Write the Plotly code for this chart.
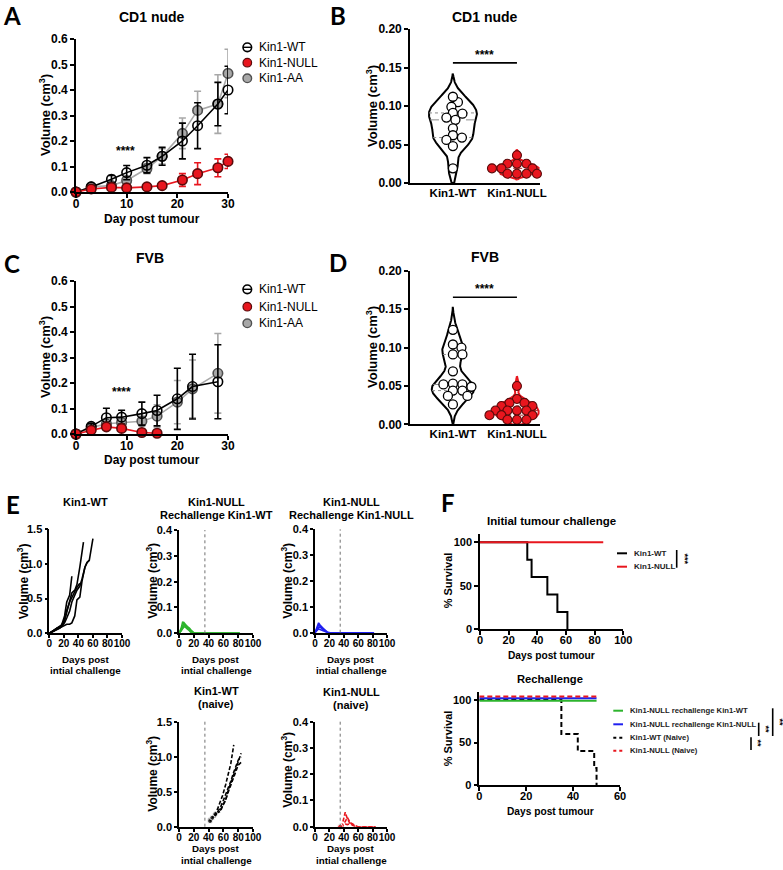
import numpy as np
import plotly.graph_objects as go

W, H = 783, 870
FONT = "Liberation Sans"
RED = "#e8161e"
RED_EDGE = "#5a0a0a"
GREY = "#a8a8a8"
GREY_EDGE = "#505050"
GREEN = "#2db42d"
BLUE = "#2020f0"

# ---------------- DATA ----------------
# A: CD1 nude, tumour volume (cm3), mean +/- SEM
days_A = [0, 3, 7, 10, 14, 17, 21, 24, 28, 30]
wt_A = [0.0, 0.02, 0.05, 0.076, 0.105, 0.14, 0.20, 0.26, 0.345, 0.40]
wt_A_err = [0.0, 0.005, 0.015, 0.028, 0.03, 0.035, 0.07, 0.09, 0.085, 0.093]
null_A = [0.0, 0.012, 0.018, 0.016, 0.02, 0.025, 0.047, 0.072, 0.095, 0.12]
null_A_err = [0.0, 0.003, 0.004, 0.004, 0.004, 0.005, 0.025, 0.043, 0.035, 0.028]
aa_A = [0.0, 0.02, 0.025, 0.045, 0.092, 0.14, 0.23, 0.32, 0.345, 0.465]
aa_A_err = [0.0, 0.004, 0.006, 0.01, 0.02, 0.03, 0.06, 0.075, 0.115, 0.095]

# C: FVB, tumour volume (cm3), mean +/- SEM
days_C = [0, 3, 6, 9, 13, 16, 20, 23, 28]
wt_C = [0.0, 0.03, 0.064, 0.066, 0.08, 0.092, 0.138, 0.186, 0.205]
wt_C_err = [0.0, 0.01, 0.037, 0.027, 0.045, 0.06, 0.12, 0.127, 0.145]
aa_C = [0.0, 0.025, 0.04, 0.045, 0.05, 0.07, 0.125, 0.177, 0.238]
aa_C_err = [0.0, 0.008, 0.01, 0.012, 0.02, 0.045, 0.085, 0.113, 0.156]
days_C_null = [0, 3, 6, 9, 13, 16]
null_C = [0.0, 0.015, 0.028, 0.022, 0.006, 0.003]
null_C_err = [0.0, 0.004, 0.01, 0.009, 0.003, 0.002]

# B / D: individual tumour volumes (cm3)
groups = ["Kin1-WT", "Kin1-NULL"]
b_wt = [0.105, 0.112, 0.099, 0.091, 0.090, 0.082, 0.085, 0.071, 0.062, 0.056, 0.059, 0.048, 0.019]
b_null = [0.036, 0.025, 0.025, 0.025, 0.019, 0.019, 0.019, 0.019, 0.019,
          0.012, 0.012, 0.012, 0.012]
d_wt = [0.123, 0.100, 0.104, 0.091, 0.091, 0.069, 0.053, 0.052, 0.052, 0.049, 0.044,
        0.044, 0.037, 0.037, 0.026]
d_null = [0.050, 0.033, 0.028, 0.028, 0.024, 0.024, 0.024, 0.018, 0.018, 0.018, 0.018,
          0.012, 0.012, 0.012, 0.012, 0.006, 0.006, 0.006]

# E: individual tumour volume (cm3) vs days post initial challenge
e_wt_days = [
    [0, 7, 10, 14, 17, 21, 24, 28, 31],
    [0, 7, 10, 14, 17, 21, 24, 28, 31, 35, 38, 42, 45, 47],
    [0, 7, 10, 14, 17, 21, 24, 28, 31, 35, 38, 42, 45, 49, 52, 55, 60],
    [0, 7, 10, 14, 17, 21, 24, 28, 31, 35, 38, 42],
    [0, 7, 10, 14, 17, 21, 24, 28, 31, 35, 38, 42, 45, 49, 52, 55],
]
e_wt_vol = [
    [0, 0.05, 0.07, 0.08, 0.12, 0.25, 0.45, 0.55, 0.82],
    [0, 0.04, 0.07, 0.09, 0.11, 0.18, 0.30, 0.45, 0.58, 0.62, 0.70, 0.95, 1.15, 1.31],
    [0, 0.03, 0.05, 0.07, 0.10, 0.15, 0.22, 0.32, 0.45, 0.55, 0.62, 0.68, 0.78, 0.95, 1.02, 1.05, 1.36],
    [0, 0.05, 0.06, 0.09, 0.12, 0.20, 0.33, 0.45, 0.52, 0.60, 0.66, 0.72],
    [0, 0.04, 0.06, 0.08, 0.10, 0.12, 0.13, 0.13, 0.15, 0.25, 0.48, 0.52, 0.75, 0.95, 1.02, 1.05],
]
e_re_days = [0, 3, 5, 7, 10, 14, 17, 21, 28, 35, 42, 49, 56, 63, 70, 77, 82]
e_re_wt_vol = [
    [0, 0.02, 0.045, 0.035, 0.02, 0.01, 0, 0, 0, 0, 0, 0, 0, 0, 0, 0, 0],
    [0, 0.015, 0.03, 0.04, 0.03, 0.015, 0.005, 0, 0, 0, 0, 0, 0, 0, 0, 0, 0],
    [0, 0.01, 0.025, 0.03, 0.028, 0.02, 0.01, 0, 0, 0, 0, 0, 0, 0, 0, 0, 0],
    [0, 0.01, 0.02, 0.025, 0.022, 0.018, 0.005, 0, 0, 0, 0, 0, 0, 0, 0, 0, 0],
]
e_re_null_vol = [
    [0, 0.02, 0.038, 0.03, 0.02, 0.008, 0, 0, 0, 0, 0, 0, 0, 0, 0, 0, 0],
    [0, 0.015, 0.03, 0.025, 0.018, 0.01, 0.003, 0, 0, 0, 0, 0, 0, 0, 0, 0, 0],
    [0, 0.01, 0.02, 0.022, 0.015, 0.008, 0, 0, 0, 0, 0, 0, 0, 0, 0, 0, 0],
    [0, 0.008, 0.015, 0.012, 0.01, 0.005, 0, 0, 0, 0, 0, 0, 0, 0, 0, 0, 0],
]
e_naive_wt_days = [
    [42, 45, 49, 52, 56, 59, 63, 66, 70, 74],
    [42, 45, 49, 52, 56, 59, 63, 66, 70, 74, 77, 80, 84],
    [45, 49, 52, 56, 59, 63, 66, 70, 74, 77, 80, 84],
    [49, 52, 56, 59, 63, 66, 70, 74, 77, 80, 84],
]
e_naive_wt_vol = [
    [0.10, 0.13, 0.18, 0.25, 0.35, 0.45, 0.60, 0.75, 0.90, 1.17],
    [0.08, 0.10, 0.15, 0.20, 0.28, 0.35, 0.45, 0.55, 0.65, 0.78, 0.88, 0.95, 1.00],
    [0.13, 0.16, 0.20, 0.22, 0.30, 0.38, 0.48, 0.60, 0.70, 0.80, 0.88, 0.92],
    [0.18, 0.20, 0.24, 0.30, 0.38, 0.50, 0.62, 0.75, 0.85, 0.95, 1.05],
]
e_naive_null_days = [35, 38, 42, 45, 49, 52, 56, 59, 63, 70, 77, 84]
e_naive_null_vol = [
    [0, 0.01, 0.055, 0.03, 0.01, 0.005, 0, 0, 0, 0, 0, 0],
    [0, 0.005, 0.02, 0.035, 0.015, 0.01, 0.005, 0, 0, 0, 0, 0],
    [0, 0, 0.01, 0.008, 0.012, 0.008, 0.003, 0, 0, 0, 0, 0],
]
rechallenge_day = 35

# F: survival (%)
f1_wt_t = [0, 33, 36, 47, 54, 61]
f1_wt_s = [100, 80, 60, 40, 20, 0]
f1_null_t = [0, 86]
f1_null_s = [100, 100]
f2_flat_t = [0, 50]
f2_flat_s = [100, 100]
f2_naive_wt_t = [0, 35, 42, 49, 50]
f2_naive_wt_s = [100, 60, 40, 20, 0]

# ---------------- FIGURE ----------------
fig = go.Figure()
axes = {}
shapes = []
annots = []
count = [0]


def axis_style(**kw):
    d = dict(showline=True, linecolor="black", linewidth=1.6, ticks="outside", ticklen=4,
             tickwidth=1.5, tickcolor="black", showgrid=False, zeroline=False,
             fixedrange=True, automargin=False, tickangle=0,
             tickfont=dict(family=FONT, size=12, color="black", weight="bold"))
    d.update(kw)
    return d


def new_axes(box, xr, yr, xkw=None, ykw=None):
    count[0] += 1
    n = count[0]
    sfx = "" if n == 1 else str(n)
    x0, x1, yt, yb = box
    xa = axis_style(domain=[x0 / W, x1 / W], range=xr, anchor="y" + sfx, ticklabelstandoff=-4)
    ya = axis_style(domain=[1 - yb / H, 1 - yt / H], range=yr, anchor="x" + sfx)
    xa.update(xkw or {})
    ya.update(ykw or {})
    axes["xaxis" + sfx] = xa
    axes["yaxis" + sfx] = ya
    return "x" + sfx, "y" + sfx


def text(x, y, s, size, bold=True, angle=0, xanchor="center", family=FONT, color="black"):
    annots.append(dict(x=x / W, y=1 - y / H, xref="paper", yref="paper", text=s,
                       showarrow=False, textangle=angle, xanchor=xanchor, yanchor="middle",
                       font=dict(family=family, size=size, color=color,
                                 weight="bold" if bold else "normal")))


def pline(x0, y0, x1, y1, color="black", width=1.5, dash="solid"):
    shapes.append(dict(type="line", xref="paper", yref="paper", x0=x0 / W, x1=x1 / W,
                       y0=1 - y0 / H, y1=1 - y1 / H, line=dict(color=color, width=width, dash=dash)))


def pcircle(x, y, r, fill, edge, lw):
    shapes.append(dict(type="circle", xref="paper", yref="paper", xsizemode="pixel",
                       ysizemode="pixel", xanchor=x / W, yanchor=1 - y / H,
                       x0=-r, x1=r, y0=-r, y1=r, fillcolor=fill,
                       line=dict(color=edge, width=lw)))


def growth(xa, ya, days, vals, err, line_color, mfill, medge, symbol="circle"):
    fig.add_trace(go.Scatter(
        x=days, y=vals, mode="lines+markers", xaxis=xa, yaxis=ya, cliponaxis=False,
        line=dict(color=line_color, width=1.6),
        marker=dict(size=9.5, symbol=symbol, color=mfill, line=dict(color=medge, width=1.6)),
        error_y=dict(type="data", array=err, color=line_color, thickness=1.6, width=3.5),
        hoverinfo="skip"))


def growth_panel(box, days_wt, wt, wt_err, days_aa, aa, aa_err, days_null, nul, nul_err,
                 star_x, star_y):
    xa, ya = new_axes(box, [0, 30], [0, 0.6],
                      xkw=dict(tickvals=[0, 10, 20, 30]),
                      ykw=dict(tickvals=[0, 0.1, 0.2, 0.3, 0.4, 0.5, 0.6], tickformat=".1f"))
    growth(xa, ya, days_aa, aa, aa_err, GREY, GREY, GREY_EDGE)
    growth(xa, ya, days_wt, wt, wt_err, "black", "black", "black", symbol="circle-open")
    growth(xa, ya, days_null, nul, nul_err, RED, RED, RED_EDGE)
    annots.append(dict(x=star_x, y=star_y, xref=xa, yref=ya, text="****", showarrow=False,
                       font=dict(family=FONT, size=12, color="black", weight="bold")))


def violin(xa, ya, vals, center, bw, halfw, color, qcolor):
    v = np.asarray(vals, float)
    lo = max(v.min() - 2.5 * bw, 0.0)
    hi = v.max() + 2.5 * bw
    ys = np.linspace(lo, hi, 300)
    dens = np.exp(-0.5 * ((ys[:, None] - v[None, :]) / bw) ** 2).sum(axis=1)
    hw = halfw * dens / dens.max()
    xs = np.concatenate([center + hw, (center - hw)[::-1]])
    yy = np.concatenate([ys, ys[::-1]])
    fig.add_trace(go.Scatter(x=np.append(xs, xs[0]), y=np.append(yy, yy[0]), mode="lines",
                             fill="toself", fillcolor="rgba(255,255,255,0)",
                             line=dict(color=color, width=2), xaxis=xa, yaxis=ya,
                             cliponaxis=False, hoverinfo="skip"))
    q = np.percentile(v, [25, 50, 75])
    for qi, dash in zip(q, ["dot", "dash", "dot"]):
        w = float(np.interp(qi, ys, hw))
        fig.add_trace(go.Scatter(x=[center - w, center + w], y=[qi, qi], mode="lines",
                                 line=dict(color=qcolor, width=1, dash=dash),
                                 xaxis=xa, yaxis=ya, hoverinfo="skip"))


def swarm(vals, center, ypx, xpx, diam, kv=1.55):
    v = np.asarray(vals, float)
    order = np.argsort(-v, kind="stable")
    placed = []
    off = np.zeros(len(v))
    cands = [0.0] + [s * k for k in np.arange(0.5, 80, 0.5) for s in (1, -1)]
    for i in order:
        y = v[i] * ypx
        for c in cands:
            if all((c - a) ** 2 + (kv * (y - b)) ** 2 >= diam ** 2 for a, b in placed):
                off[i] = c
                placed.append((c, y))
                break
    return center + off / xpx


def violin_panel(box, wt, nul, bws, halfws, sig_y):
    xa, ya = new_axes(box, [-0.67, 1.36], [0, 0.2],
                      xkw=dict(tickvals=[0, 1], ticktext=groups, ticks="",
                               ticklabelstandoff=-2,
                               tickfont=dict(family=FONT, size=11.5, color="black", weight="bold")),
                      ykw=dict(tickvals=[0, 0.05, 0.1, 0.15, 0.2], tickformat=".2f"))
    x0, x1, yt, yb = box
    ypx = (yb - yt) / 0.2
    xpx = (x1 - x0) / (1.36 + 0.67)
    violin(xa, ya, wt, 0, bws[0], halfws[0], "black", "#8a8a8a")
    violin(xa, ya, nul, 1, bws[1], halfws[1], RED, "#b03030")
    fig.add_trace(go.Scatter(x=swarm(wt, 0, ypx, xpx, 9.5), y=wt, mode="markers",
                             xaxis=xa, yaxis=ya, cliponaxis=False, hoverinfo="skip",
                             marker=dict(size=9, color="white", line=dict(color="black", width=1.3))))
    fig.add_trace(go.Scatter(x=swarm(nul, 1, ypx, xpx, 9.3), y=nul, mode="markers",
                             xaxis=xa, yaxis=ya, cliponaxis=False, hoverinfo="skip",
                             marker=dict(size=9, color=RED, line=dict(color=RED_EDGE, width=1.1))))
    shapes.append(dict(type="line", xref=xa, yref=ya, x0=0, x1=1, y0=sig_y, y1=sig_y,
                       line=dict(color="black", width=1.6)))
    annots.append(dict(x=0.5, y=sig_y, xref=xa, yref=ya, text="****", showarrow=False,
                       yanchor="bottom", yshift=-1,
                       font=dict(family=FONT, size=12, color="black", weight="bold")))


# ---- Panel A ----
growth_panel((76, 228, 39, 192), days_A, wt_A, wt_A_err, days_A, aa_A, aa_A_err,
             days_A, null_A, null_A_err, 9.8, 0.16)
# ---- Panel C ----
growth_panel((76, 228, 281, 434), days_C, wt_C, wt_C_err, days_C, aa_C, aa_C_err,
             days_C_null, null_C, null_C_err, 9.0, 0.163)
# ---- Panel B ----
violin_panel((410, 540, 29, 183), b_wt, b_null, (0.012, 0.003), (0.375, 0.34), 0.156)
# ---- Panel D ----
violin_panel((410, 540, 270.7, 424.4), d_wt, d_null, (0.012, 0.005), (0.33, 0.34), 0.1655)

# legends A and C
leg_names = ["Kin1-WT", "Kin1-NULL", "Kin1-AA"]
for rows in ([47.3, 62.7, 78.3], [289.3, 306.7, 323.3]):
    pcircle(247.3, rows[0], 4.3, "white", "black", 1.6)
    pline(243, rows[0], 251.6, rows[0], "black", 1.4)
    pcircle(247.3, rows[1], 4.3, RED, RED_EDGE, 1.2)
    pcircle(247.3, rows[2], 4.3, GREY, GREY_EDGE, 1.4)
    for r, nm in zip(rows, leg_names):
        text(256.5, r, nm, 12, bold=False, xanchor="left")

# ---- Panel E ----
e_xkw = dict(tickvals=[0, 20, 40, 60, 80, 100], ticklen=3, ticklabelstandoff=-3,
             tickfont=dict(family=FONT, size=10, color="black", weight="bold"))
e_yfont = dict(family=FONT, size=11, color="black", weight="bold")


def e_axes(box, ymax, ytv):
    return new_axes(box, [0, 100], [0, ymax], xkw=dict(e_xkw),
                    ykw=dict(tickvals=ytv, tickformat=".1f", tickfont=e_yfont, ticklen=3))


def e_lines(xa, ya, days_list, vols_list, color, dash="solid", first_marker=False):
    for d, v in zip(days_list, vols_list):
        sizes = [5] + [0] * (len(d) - 1)
        fig.add_trace(go.Scatter(x=d, y=v, mode="lines+markers" if first_marker else "lines",
                                 xaxis=xa, yaxis=ya, cliponaxis=False, hoverinfo="skip",
                                 line=dict(color=color, width=1.6, dash=dash),
                                 marker=dict(size=sizes, color=color)))


def vline(xa, ya):
    shapes.append(dict(type="line", xref=xa, yref=ya + " domain", x0=rechallenge_day,
                       x1=rechallenge_day, y0=0, y1=1,
                       line=dict(color="#707070", width=1, dash="dot")))


tv15 = [0, 0.5, 1.0, 1.5]
tv04 = [0, 0.1, 0.2, 0.3, 0.4]
xa, ya = e_axes((49.3, 122, 529, 633.3), 1.5, tv15)
e_lines(xa, ya, e_wt_days, e_wt_vol, "black")

xa, ya = e_axes((179, 253, 530, 633.3), 0.4, tv04)
vline(xa, ya)
e_lines(xa, ya, [e_re_days] * len(e_re_wt_vol), e_re_wt_vol, GREEN)

xa, ya = e_axes((315, 387, 529.3, 632.7), 0.4, tv04)
vline(xa, ya)
e_lines(xa, ya, [e_re_days] * len(e_re_null_vol), e_re_null_vol, BLUE)

xa, ya = e_axes((179, 253, 721.7, 826.7), 1.5, tv15)
vline(xa, ya)
e_lines(xa, ya, e_naive_wt_days, e_naive_wt_vol, "black", dash="4px,2px", first_marker=True)

xa, ya = e_axes((315, 387, 721.7, 826.7), 0.4, tv04)
vline(xa, ya)
e_lines(xa, ya, [e_naive_null_days] * len(e_naive_null_vol), e_naive_null_vol, RED,
        dash="4px,2px", first_marker=True)

# E titles / axis titles
text(85.5, 502, "Kin1-WT", 11)
text(216, 502, "Kin1-NULL", 11)
text(216, 514.5, "Rechallenge Kin1-WT", 11)
text(351, 502, "Kin1-NULL", 11)
text(351, 514.5, "Rechallenge Kin1-NULL", 11)
text(216, 691, "Kin1-WT", 11)
text(216, 704, "(naive)", 11)
text(351, 692, "Kin1-NULL", 11)
text(351, 705, "(naive)", 11)
vol_t = "Volume (cm<sup>3</sup>)"
for (x, y) in [(23.3, 581), (151.7, 581), (286.7, 581), (151.7, 774), (286.7, 770)]:
    text(x, y, vol_t, 12, angle=-90)
for (cx, y0) in [(85.5, 659), (216, 659), (351, 659), (216, 848.5), (351, 848.5)]:
    text(cx, y0, "Days post", 9.8)
    text(cx, y0 + 11.5, "intial challenge", 9.8)

# ---- Panel F ----
f_font = dict(family=FONT, size=11, color="black", weight="bold")
xa, ya = new_axes((480, 623.3, 533.6, 629.3), [0, 100], [0, 110],
                  xkw=dict(tickvals=[0, 20, 40, 60, 80, 100], tickfont=f_font),
                  ykw=dict(tickvals=[0, 50, 100], tickfont=f_font))
fig.add_trace(go.Scatter(x=f1_wt_t, y=f1_wt_s, mode="lines", line_shape="hv",
                         line=dict(color="black", width=2), xaxis=xa, yaxis=ya,
                         cliponaxis=False, hoverinfo="skip"))
fig.add_trace(go.Scatter(x=f1_null_t, y=f1_null_s, mode="lines", line_shape="hv",
                         line=dict(color=RED, width=2), xaxis=xa, yaxis=ya,
                         cliponaxis=False, hoverinfo="skip"))

xa, ya = new_axes((479.3, 620, 691.5, 785), [0, 60], [0, 110],
                  xkw=dict(tickvals=[0, 20, 40, 60], tickfont=f_font),
                  ykw=dict(tickvals=[0, 50, 100], tickfont=f_font))
nudge = {"naive_wt": 0, "re_wt": -1, "re_null": 2, "naive_null": 4}
fig.add_trace(go.Scatter(x=f2_naive_wt_t, y=[s + nudge["naive_wt"] for s in f2_naive_wt_s],
                         mode="lines", line_shape="hv",
                         line=dict(color="black", width=2, dash="5px,3px"),
                         xaxis=xa, yaxis=ya, cliponaxis=False, hoverinfo="skip"))
for key, col, dash in [("re_wt", GREEN, "solid"), ("re_null", BLUE, "solid"),
                       ("naive_null", RED, "5px,3px")]:
    fig.add_trace(go.Scatter(x=f2_flat_t, y=[s + nudge[key] for s in f2_flat_s], mode="lines",
                             line_shape="hv", line=dict(color=col, width=2, dash=dash),
                             xaxis=xa, yaxis=ya, cliponaxis=False, hoverinfo="skip"))

text(551.7, 521, "Initial tumour challenge", 11.5)
text(550, 679.3, "Rechallenge", 11.2)
text(448.3, 580, "% Survival", 11, angle=-90)
text(448.3, 738, "% Survival", 11, angle=-90)
text(551.7, 655, "Days post tumour", 10.2)
text(550, 811, "Days post tumour", 10.2)

# F legends
LEG_C = "#222222"
pline(617, 553.3, 627, 553.3, "black", 2)
pline(617, 566.7, 627, 566.7, RED, 2)
text(631.5, 553.3, "Kin1-WT", 8, xanchor="left", color=LEG_C)
text(631.5, 566.7, "Kin1-NULL", 8, xanchor="left", color=LEG_C)
pline(676.7, 550, 676.7, 567.7, "black", 1.6)
text(684.5, 559, "***", 9, angle=90)

f2_leg = [("Kin1-NULL rechallenge Kin1-WT", GREEN, "solid"),
          ("Kin1-NULL rechallenge Kin1-NULL", BLUE, "solid"),
          ("Kin1-WT (Naive)", "black", "3px,3px"),
          ("Kin1-NULL (Naive)", RED, "3px,3px")]
for yy, (nm, col, dash) in zip([710.7, 724.3, 737.7, 750.7], f2_leg):
    pline(613.3, yy, 623, yy, col, 2, dash)
    text(628, yy, nm, 7.7, xanchor="left", color=LEG_C)
pline(751, 737.3, 751, 750, "black", 1.6)
text(758.3, 743.7, "**", 9, angle=90)
pline(758.7, 722.7, 758.7, 736, "black", 1.6)
text(765.7, 729.3, "**", 9, angle=90)
pline(772.7, 708.3, 772.7, 736, "black", 1.6)
text(779.5, 722, "**", 9, angle=90)

# ---- Titles, axis titles A-D ----
text(151.7, 16.7, "CD1 nude", 14)
text(484.7, 16.7, "CD1 nude", 14)
text(150, 258, "FVB", 14)
text(485, 257, "FVB", 14)
text(152, 219, "Day post tumour", 12)
text(152, 460, "Day post tumour", 12)
text(45, 115, vol_t, 13, angle=-90)
text(45, 357, vol_t, 13, angle=-90)
text(372, 106, vol_t, 13, angle=-90)
text(372, 347, vol_t, 13, angle=-90)

# panel letters
for (x, y, s) in [(12, 15, "A"), (338, 15, "B"), (11.7, 263, "C"), (338, 262, "D"),
                  (12.5, 504, "E"), (447.5, 502.5, "F")]:
    text(x, y, s, 24, family="Lato")

fig.update_layout(width=W, height=H, margin=dict(l=0, r=0, t=0, b=0),
                  paper_bgcolor="white", plot_bgcolor="white", showlegend=False,
                  shapes=shapes, annotations=annots, **axes)
fig.write_html("out.html", config={"displayModeBar": False},
               post_script="document.body.style.margin='0px';document.body.style.padding='0px';")
